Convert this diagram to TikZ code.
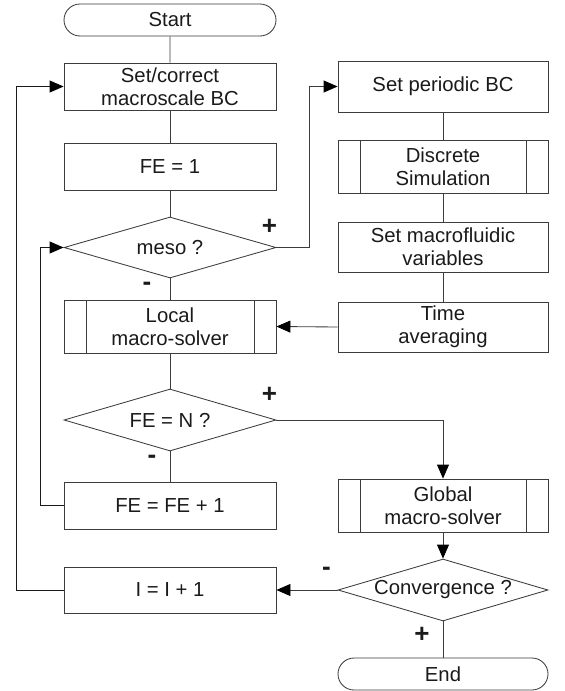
\documentclass[tikz,border=0pt]{standalone}
\usepackage{fontspec}
\setmainfont{Liberation Sans}
\usetikzlibrary{arrows.meta,shapes.geometric,shapes.misc,calc}
\definecolor{Ink}{HTML}{1A1A1A}
\definecolor{LineInk}{HTML}{3C3C3C}
\tikzset{
  box base/.style={draw=LineInk, line width=0.85pt, align=center, text=Ink,
    font=\fontsize{20.3}{23}\selectfont, inner sep=0pt},
  terminal/.style={box base, rounded rectangle, minimum width=212pt, minimum height=32pt},
  process/.style={box base, rectangle, minimum width=212pt, minimum height=47pt},
  subroutine/.style={process, minimum height=53pt,
    path picture={
      \draw[LineInk, line width=0.85pt]
        ([xshift=22pt]path picture bounding box.north west) --
        ([xshift=22pt]path picture bounding box.south west);
      \draw[LineInk, line width=0.85pt]
        ([xshift=-22pt]path picture bounding box.north east) --
        ([xshift=-22pt]path picture bounding box.south east);}},
  decision/.style={box base, diamond, aspect=3.45, minimum width=212pt, minimum height=61pt},
  plain flow/.style={draw=LineInk, line width=0.85pt},
  main flow/.style={-{Triangle[length=14pt,width=12pt,color=black]}, draw=LineInk, line width=0.85pt},
  loop flow/.style={-{Triangle[length=14pt,width=12pt,color=black]}, draw=Ink, line width=0.95pt},
  branch mark/.style={font=\bfseries\fontsize{26}{26}\selectfont, text=Ink, inner sep=0pt},
}

\begin{document}
\begin{tikzpicture}[x=1pt, y=-1pt]
  \useasboundingbox (0,0) rectangle (565,691);

  % left column: the multiscale loop
  \node[terminal] (start) at (170,20) {Start};
  \node[process] (setBC) at (170,86.5) {Set/correct\\macroscale BC};
  \node[process] (feOne) at (170,167) {FE = 1};
  \node[decision] (meso) at (170,247.5) {meso ?};
  \node[subroutine] (localSolver) at (170,326.5) {Local\\macro-solver};
  \node[decision, minimum height=62pt] (feN) at (170,420) {FE = N ?};
  \node[process] (feInc) at (170,505.5) {FE = FE + 1};
  \node[process, minimum height=46pt] (iterInc) at (170,590) {I = I + 1};

  % right column: mesoscale branch and global step
  \node[process, minimum width=210pt, minimum height=51pt] (periodicBC) at (443,86.5) {Set periodic BC};
  \node[subroutine, minimum width=210pt] (discreteSim) at (443,166.5) {Discrete\\Simulation};
  \node[process, minimum width=210pt, minimum height=50pt] (macroVars) at (443,247) {Set macrofluidic\\variables};
  \node[process, minimum width=210pt, minimum height=50pt] (timeAvg) at (443,327) {Time\\averaging};
  \node[subroutine, minimum width=210pt] (globalSolver) at (443,505.5) {Global\\macro-solver};
  \node[decision, minimum width=210pt, minimum height=62pt] (converge) at (443,590) {Convergence ?};
  \node[terminal, minimum width=210pt] (finish) at (443,674) {End};

  % branch signs
  \node[branch mark] (mesoYes) at ($(meso.east)+(-7,-21)$) {+};
  \node[branch mark] (mesoNo) at ($(meso.south)+(-23,8)$) {-};
  \node[branch mark] (feNYes) at ($(feN.east)+(-7,-25)$) {+};
  \node[branch mark] (feNNo) at ($(feN.south)+(-18,8)$) {-};
  \node[branch mark] (convNo) at ($(converge.west)+(-11,-19)$) {-};
  \node[branch mark] (convYes) at ($(converge.south)+(-21,13)$) {+};

  \draw[plain flow] (start) -- (setBC);
  \draw[plain flow] (setBC) -- (feOne);
  \draw[plain flow] (feOne) -- (meso);
  \draw[plain flow] (meso) -- (localSolver);
  \draw[plain flow] (localSolver) -- (feN);
  \draw[plain flow] (feN) -- (feInc);
  \draw[plain flow] (periodicBC) -- (discreteSim);
  \draw[plain flow] (discreteSim) -- (macroVars);
  \draw[plain flow] (macroVars) -- (timeAvg);
  \draw[plain flow] (converge) -- (finish);

  \draw[main flow] (meso.east) -- ++(33,0) |- (periodicBC.west);
  \draw[main flow] (timeAvg.west) -- (localSolver.east);
  \draw[main flow] (feN.east) -| (globalSolver.north);
  \draw[main flow] (globalSolver.south) -- (converge.north);
  \draw[main flow] (converge.west) -- (iterInc.east);
  \draw[loop flow] (feInc.west) -- ++(-23,0) |- (meso.west);
  \draw[loop flow] (iterInc.west) -- ++(-47,0) |- (setBC.west);
\end{tikzpicture}
\end{document}
